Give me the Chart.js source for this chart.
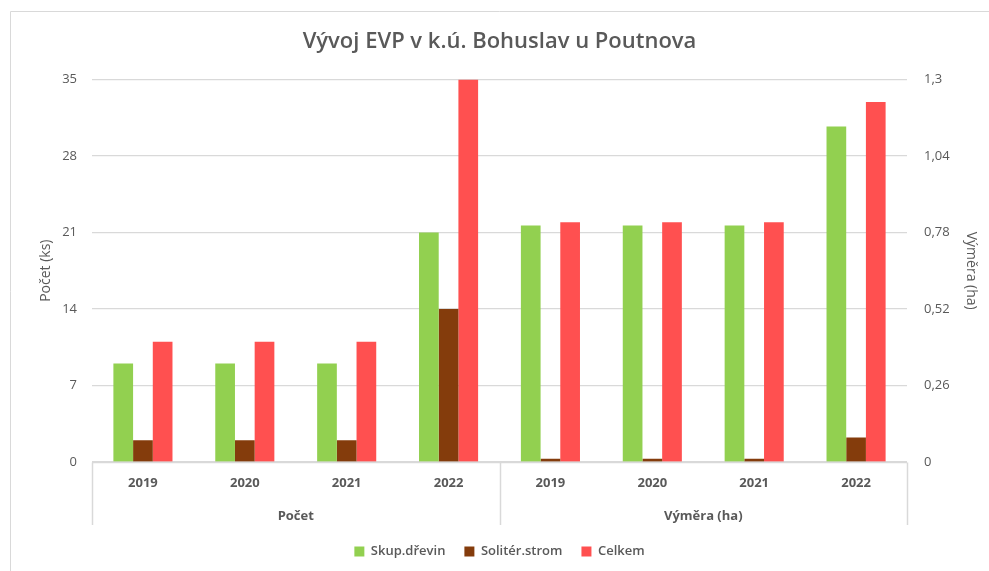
<!DOCTYPE html>
<html>
<head>
<meta charset="utf-8">
<script src="https://cdn.jsdelivr.net/npm/chart.js@4"></script>
<style>
  html, body { margin: 0; padding: 0; background: #fff; }
  #wrap { width: 989px; height: 571px; }
</style>
</head>
<body>
<div id="wrap"><canvas id="evpChart"></canvas></div>
<script>
const years = ["2019", "2020", "2021", "2022"];
const groups = ["Počet", "Výměra (ha)"];
const seriesNames = ["Skup.dřevin", "Solitér.strom", "Celkem"];
const seriesColors = ["#92D050", "#843C0C", "#FF5050"];

// Počet (ks) - left axis
const skupCount = [9, 9, 9, 21];
const solitCount = [2, 2, 2, 14];
const celkemCount = [11, 11, 11, 35];

// Výměra (ha) - right axis
const skupArea = [0.804, 0.804, 0.804, 1.14];
const solitArea = [0.011, 0.011, 0.011, 0.083];
const celkemArea = [0.815, 0.815, 0.815, 1.223];

const countTicks = [0, 7, 14, 21, 28, 35];
const areaTicks = [0, 0.26, 0.52, 0.78, 1.04, 1.3];

const textColor = "#595959";
const gridColor = "#D9D9D9";
const fontFamily = "'Open Sans', sans-serif";

const labels = years.concat(years);
const blanks = years.map(() => null);

const countSets = [skupCount, solitCount, celkemCount];
const areaSets = [skupArea, solitArea, celkemArea];

const datasets = [];
seriesNames.forEach((name, i) => {
  datasets.push({
    label: name,
    data: countSets[i].concat(blanks),
    backgroundColor: seriesColors[i],
    yAxisID: "y",
    stack: "s" + i,
  });
});
seriesNames.forEach((name, i) => {
  datasets.push({
    label: name,
    data: blanks.concat(areaSets[i]),
    backgroundColor: seriesColors[i],
    yAxisID: "y2",
    stack: "s" + i,
  });
});

// frame + multi-level category axis lines
const framePlugin = {
  id: "frame",
  afterDraw(chart) {
    const ctx = chart.ctx;
    const area = chart.chartArea;
    const x = chart.scales.x;
    const x2 = chart.scales.x2;
    ctx.save();
    ctx.strokeStyle = gridColor;
    ctx.lineWidth = 1;
    ctx.beginPath();
    ctx.moveTo(10.5, 571);
    ctx.lineTo(10.5, 11.5);
    ctx.lineTo(989, 11.5);
    ctx.stroke();

    ctx.lineWidth = 1.5;
    const y0 = Math.round(area.bottom) + 0.5;
    ctx.beginPath();
    ctx.moveTo(area.left, y0);
    ctx.lineTo(area.right, y0);
    const mid = (x.getPixelForValue(3) + x.getPixelForValue(4)) / 2;
    [area.left, mid, area.right].forEach((px) => {
      const p = Math.round(px) + 0.5;
      ctx.moveTo(p, y0);
      ctx.lineTo(p, x2.bottom - 1);
    });
    ctx.stroke();
    ctx.restore();
  },
};

const fmtArea = (v) => (v === 0 ? "0" : String(Number(v.toFixed(2))).replace(".", ","));

new Chart(document.getElementById("evpChart"), {
  type: "bar",
  data: { labels: labels, datasets: datasets },
  options: {
    responsive: true,
    maintainAspectRatio: false,
    animation: false,
    categoryPercentage: 0.58,
    barPercentage: 1.0,
    layout: { padding: { left: 10, right: 0, top: 12, bottom: 3 } },
    plugins: {
      title: {
        display: true,
        text: "Vývoj EVP v k.ú. Bohuslav u Poutnova",
        color: textColor,
        font: { family: fontFamily, size: 22, weight: "600" },
        padding: { top: 17, bottom: 24 },
      },
      legend: {
        position: "bottom",
        labels: {
          filter: (item) => item.datasetIndex < 3,
          color: textColor,
          boxWidth: 10,
          boxHeight: 10,
          padding: 19,
          font: { family: fontFamily, size: 13, weight: "600" },
        },
      },
      tooltip: { enabled: false },
    },
    scales: {
      x: {
        grid: { display: false, drawTicks: false },
        border: { display: false },
        ticks: {
          color: textColor,
          font: { family: fontFamily, size: 13, weight: "bold" },
          padding: 13,
          maxRotation: 0,
        },
        afterFit: (s) => { s.height = 38; },
      },
      x2: {
        type: "category",
        labels: groups,
        offset: true,
        position: "bottom",
        grid: { display: false, drawTicks: false },
        border: { display: false },
        ticks: {
          color: textColor,
          font: { family: fontFamily, size: 13, weight: "bold" },
          padding: 8,
        },
        afterFit: (s) => { s.height = 26; },
      },
      y: {
        position: "left",
        min: 0,
        max: 35,
        afterBuildTicks: (s) => { s.ticks = countTicks.map((v) => ({ value: v })); },
        grid: { color: gridColor, drawTicks: false, lineWidth: 1.2 },
        border: { display: false },
        ticks: {
          color: textColor,
          font: { family: fontFamily, size: 13 },
          padding: 15,
        },
        title: {
          display: true,
          text: "Počet (ks)",
          color: textColor,
          font: { family: fontFamily, size: 14 },
          padding: { top: 28, bottom: 0 },
        },
        afterFit: (s) => { s.width = 82; },
      },
      y2: {
        position: "right",
        min: 0,
        max: 1.3,
        afterBuildTicks: (s) => { s.ticks = areaTicks.map((v) => ({ value: v })); },
        grid: { drawOnChartArea: false, drawTicks: false },
        border: { display: false },
        ticks: {
          color: textColor,
          font: { family: fontFamily, size: 13 },
          padding: 17,
          callback: (v) => fmtArea(v),
        },
        title: {
          display: true,
          text: "Výměra (ha)",
          color: textColor,
          font: { family: fontFamily, size: 14 },
          padding: { top: 10, bottom: 0 },
        },
        afterFit: (s) => { s.width = 82; },
      },
    },
  },
  plugins: [framePlugin],
});
</script>
</body>
</html>
